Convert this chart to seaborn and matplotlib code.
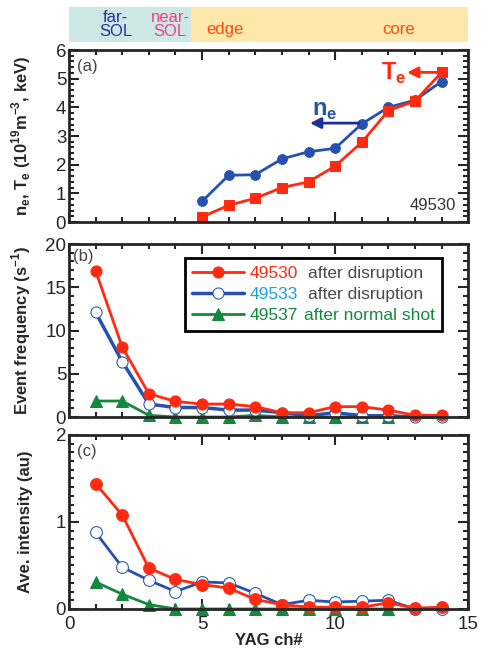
import numpy as np
import pandas as pd
import matplotlib
matplotlib.use("Agg")
import matplotlib.pyplot as plt
import seaborn as sns
from matplotlib.ticker import MultipleLocator
from matplotlib.offsetbox import TextArea, HPacker

# data

ch_a = [5, 6, 7, 8, 9, 10, 11, 12, 13, 14]
ne_49530 = [0.72, 1.63, 1.65, 2.2, 2.45, 2.57, 3.42, 4.0, 4.25, 4.9]
te_49530 = [0.18, 0.58, 0.83, 1.2, 1.4, 1.95, 2.78, 3.88, 4.22, 5.22]

ch = [1, 2, 3, 4, 5, 6, 7, 8, 9, 10, 11, 12, 13, 14]
ch_g = [1, 2, 3, 4, 5, 6, 7, 8, 9, 10, 11, 12]
freq_49530 = [16.9, 8.1, 2.7, 1.8, 1.5, 1.5, 1.2, 0.5, 0.5, 1.2, 1.2, 0.8, 0.2, 0.2]
freq_49533 = [12.1, 6.4, 1.5, 1.1, 1.1, 0.8, 0.8, 0.5, 0.15, 0.5, 0.15, 0.15, 0.0, 0.0]
freq_49537 = [1.85, 1.85, 0.2, 0.0, 0.0, 0.0, 0.2, 0.0, 0.0, 0.0, 0.0, 0.0]
int_49530 = [1.44, 1.08, 0.47, 0.34, 0.28, 0.24, 0.11, 0.05, 0.02, 0.02, 0.02, 0.07, 0.01, 0.02]
int_49533 = [0.88, 0.48, 0.33, 0.2, 0.31, 0.3, 0.18, 0.05, 0.1, 0.08, 0.09, 0.1, 0.0, 0.0]
int_49537 = [0.31, 0.17, 0.05, 0.0, 0.0, 0.0, 0.0, 0.0, 0.0, 0.0, 0.0, 0.0]

regions = ["far-\nSOL", "near-\nSOL", "edge", "core"]
shots = ["49530", "49533", "49537"]
notes = ["after disruption", "after disruption", "after normal shot"]

RED = "#ff2a10"
BLUE = "#2552b0"
GREEN = "#14893c"
CYAN = "#1fa2d6"
GREY = "#4a4a4a"

sns.set_style("ticks")
plt.rcParams["font.family"] = ["Liberation Sans", "DejaVu Sans"]
plt.rcParams["mathtext.fontset"] = "custom"
plt.rcParams["mathtext.rm"] = "Liberation Sans"
plt.rcParams["mathtext.bf"] = "Liberation Sans:bold"

fig = plt.figure(figsize=(4.88, 6.52), dpi=100)
L, W = 0.1414, 0.818
ax_band = fig.add_axes([L, 0.9356, W, 0.0537])
ax_a = fig.add_axes([L, 0.6595, W, 0.2638])
ax_b = fig.add_axes([L, 0.3604, W, 0.2653])
ax_c = fig.add_axes([L, 0.066, W, 0.2669])

# region band
ax_band.axvspan(0, 4.6, color="#cde9e5", lw=0)
ax_band.axvspan(4.6, 15, color="#fde8a9", lw=0)
ax_band.set_xlim(0, 15)
ax_band.set_ylim(0, 1)
ax_band.axis("off")
ax_band.text(1.75, 0.5, regions[0], color="#2e2e9c", fontsize=12, ha="center", va="center", linespacing=0.85)
ax_band.text(3.8, 0.5, regions[1], color="#f0408c", fontsize=12, ha="center", va="center", linespacing=0.85)
ax_band.text(5.85, 0.35, regions[2], color="#ff4a10", fontsize=12, ha="center", va="center")
ax_band.text(12.4, 0.35, regions[3], color="#ff4a10", fontsize=12, ha="center", va="center")

# (a) profiles
df_a = pd.DataFrame({"ch": ch_a, "ne": ne_49530, "te": te_49530})
sns.lineplot(data=df_a, x="ch", y="ne", ax=ax_a, color=BLUE, marker="o", markersize=7,
             markeredgecolor=BLUE, lw=2)
sns.lineplot(data=df_a, x="ch", y="te", ax=ax_a, color=RED, marker="s", markersize=7,
             markeredgecolor=RED, lw=2)
ax_a.set_ylim(0, 6)
ax_a.yaxis.set_major_locator(MultipleLocator(1))
ax_a.yaxis.set_minor_locator(MultipleLocator(0.2))
ax_a.set_ylabel(r"n$_\mathbf{e}$, T$_\mathbf{e}$ (10$^{\mathbf{19}}$m$^{\mathbf{-3}}$, keV)",
                fontweight="bold", fontsize=12)
ax_a.text(0.02, 0.95, "(a)", transform=ax_a.transAxes, fontsize=12, color="#444444", va="top")
ax_a.text(0.97, 0.05, "49530", transform=ax_a.transAxes, fontsize=12, color="#333333", ha="right", va="bottom")
ax_a.text(9.6, 3.7, r"n$_\mathbf{e}$", color=BLUE, fontsize=17, fontweight="bold", ha="center")
ax_a.annotate("", xy=(8.95, 3.45), xytext=(11.0, 3.45),
              arrowprops=dict(arrowstyle="-|>", color="#1f2f9a", lw=2, mutation_scale=16))
ax_a.text(12.2, 4.95, r"T$_\mathbf{e}$", color=RED, fontsize=17, fontweight="bold", ha="center")
ax_a.annotate("", xy=(12.6, 5.22), xytext=(14.0, 5.22),
              arrowprops=dict(arrowstyle="-|>", color=RED, lw=2, mutation_scale=16))

# (b) event frequency
df_b = pd.DataFrame({"ch": ch, "f30": freq_49530, "f33": freq_49533})
df_bg = pd.DataFrame({"ch": ch_g, "f37": freq_49537})
sns.lineplot(data=df_bg, x="ch", y="f37", ax=ax_b, color=GREEN, marker="^", markersize=8,
             markeredgecolor=GREEN, lw=2, label=shots[2])
sns.lineplot(data=df_b, x="ch", y="f33", ax=ax_b, color=BLUE, marker="o", markersize=8,
             markerfacecolor="white", markeredgecolor=BLUE, lw=2.5, label=shots[1])
sns.lineplot(data=df_b, x="ch", y="f30", ax=ax_b, color=RED, marker="o", markersize=8,
             markeredgecolor=RED, lw=2, label=shots[0])
ax_b.set_ylim(0, 20)
ax_b.yaxis.set_major_locator(MultipleLocator(5))
ax_b.yaxis.set_minor_locator(MultipleLocator(1))
ax_b.set_ylabel(r"Event frequency (s$^{\mathbf{-1}}$)", fontweight="bold", fontsize=12)
ax_b.text(0.01, 0.97, "(b)", transform=ax_b.transAxes, fontsize=12, color="#444444", va="top")
h, l = ax_b.get_legend_handles_labels()
leg = ax_b.legend(h[::-1], l[::-1], loc="upper right", bbox_to_anchor=(0.935, 0.92), fontsize=12.5,
                  frameon=True, fancybox=False, edgecolor="black", framealpha=1,
                  handlelength=3.0, handletextpad=0.3, borderpad=0.45, labelspacing=0.35,
                  borderaxespad=0)
leg.get_frame().set_linewidth(2)

# two-coloured legend labels: shot number + grey/green note
num_cols = [RED, CYAN, GREEN]
note_cols = [GREY, GREY, GREEN]
rows = [r for col in leg._legend_handle_box.get_children() for r in col.get_children()]
for row, shot, note, nc, tc in zip(rows, shots, notes, num_cols, note_cols):
    box = HPacker(children=[TextArea(shot, textprops=dict(color=nc, fontsize=12.5)),
                            TextArea(note, textprops=dict(color=tc, fontsize=12.5))],
                  pad=0, sep=7 if tc == GREY else 4, align="baseline")
    box.set_figure(fig)
    row._children[1] = box

# (c) average intensity
df_c = pd.DataFrame({"ch": ch, "i30": int_49530, "i33": int_49533})
df_cg = pd.DataFrame({"ch": ch_g, "i37": int_49537})
sns.lineplot(data=df_cg, x="ch", y="i37", ax=ax_c, color=GREEN, marker="^", markersize=8,
             markeredgecolor=GREEN, lw=2)
sns.lineplot(data=df_c, x="ch", y="i33", ax=ax_c, color=BLUE, marker="o", markersize=8.5,
             markerfacecolor="white", markeredgecolor=BLUE, lw=2)
sns.lineplot(data=df_c, x="ch", y="i30", ax=ax_c, color=RED, marker="o", markersize=8.5,
             markeredgecolor=RED, lw=2)
ax_c.set_ylim(0, 2)
ax_c.yaxis.set_major_locator(MultipleLocator(1))
ax_c.yaxis.set_minor_locator(MultipleLocator(0.1))
ax_c.set_ylabel("Ave. intensity (au)", fontweight="bold", fontsize=12)
ax_c.set_xlabel("YAG ch#", fontweight="bold", fontsize=12, labelpad=0)
ax_c.text(0.02, 0.95, "(c)", transform=ax_c.transAxes, fontsize=12, color="#444444", va="top")

for ax in (ax_a, ax_b, ax_c):
    ax.set_xlim(0, 15)
    ax.xaxis.set_major_locator(MultipleLocator(5))
    ax.xaxis.set_minor_locator(MultipleLocator(1))
    ax.tick_params(which="both", direction="in", top=True, right=True, width=1.5)
    ax.tick_params(which="major", length=7, labelsize=13.5, pad=2)
    ax.tick_params(which="minor", length=3.5)
    for s in ax.spines.values():
        s.set_linewidth(2)
    for line in ax.lines:
        line.set_clip_on(False)
    if ax is not ax_c:
        ax.set_xlabel("")
        ax.tick_params(axis="x", labelbottom=False)
    ax.yaxis.set_label_coords(-0.09, 0.5)
ax_c.tick_params(axis="x", which="major", pad=5)

fig.savefig("out.png", dpi=100)
